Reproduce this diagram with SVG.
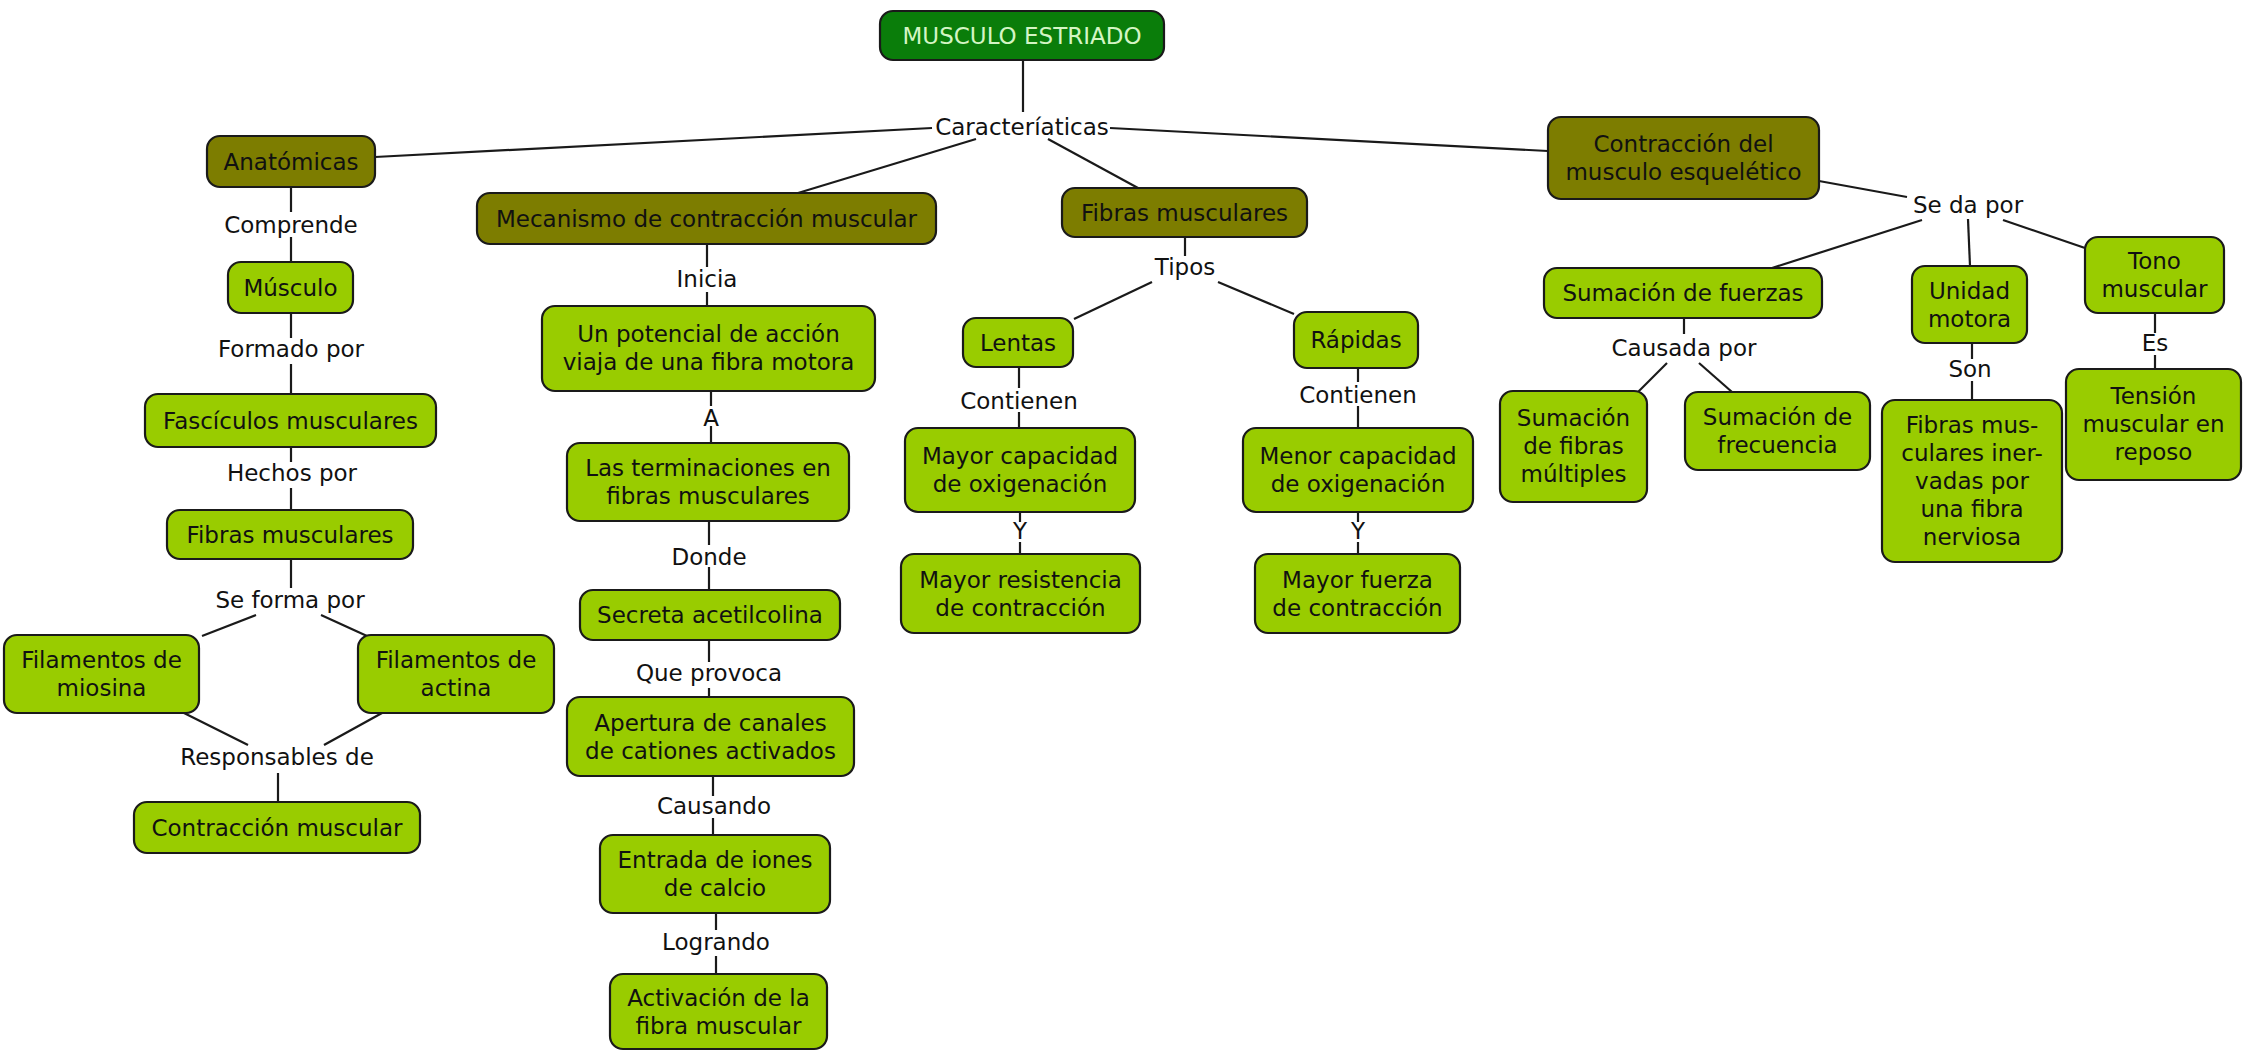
<svg xmlns="http://www.w3.org/2000/svg" width="2246" height="1051" viewBox="0 0 2246 1051">
<style>
text{font-family:"DejaVu Sans","Verdana","Liberation Sans",sans-serif;font-size:23px;fill:#111;text-anchor:middle}
.g rect{fill:#99cc00;stroke:#1a1a1a;stroke-width:2.2}
.o rect{fill:#7d7d00;stroke:#1a1a1a;stroke-width:2.2}
.t rect{fill:#0a7d0a;stroke:#1a1a1a;stroke-width:2.2}
.t text{fill:#d4f5c4}
#links line{stroke:#1a1a1a;stroke-width:2.2;fill:none}
</style>
<rect width="2246" height="1051" fill="#ffffff"/>
<g id="links">
<line x1="1023" y1="60" x2="1023" y2="112"/>
<line x1="932" y1="128" x2="375" y2="157"/>
<line x1="976" y1="139" x2="798" y2="193"/>
<line x1="1048" y1="139" x2="1138" y2="188"/>
<line x1="1110" y1="128" x2="1548" y2="151"/>
<line x1="291" y1="187" x2="291" y2="212"/>
<line x1="291" y1="237" x2="291" y2="262"/>
<line x1="291" y1="313" x2="291" y2="338"/>
<line x1="291" y1="364" x2="291" y2="394"/>
<line x1="291" y1="447" x2="291" y2="462"/>
<line x1="291" y1="488" x2="291" y2="510"/>
<line x1="291" y1="559" x2="291" y2="588"/>
<line x1="256" y1="615" x2="202" y2="636"/>
<line x1="321" y1="615" x2="367" y2="636"/>
<line x1="184" y1="713" x2="248" y2="745"/>
<line x1="382" y1="713" x2="324" y2="745"/>
<line x1="278" y1="773" x2="278" y2="802"/>
<line x1="707" y1="244" x2="707" y2="267"/>
<line x1="707" y1="292" x2="707" y2="306"/>
<line x1="711" y1="391" x2="711" y2="406"/>
<line x1="711" y1="426" x2="711" y2="443"/>
<line x1="709" y1="521" x2="709" y2="545"/>
<line x1="709" y1="567" x2="709" y2="590"/>
<line x1="709" y1="640" x2="709" y2="662"/>
<line x1="709" y1="688" x2="709" y2="697"/>
<line x1="713" y1="776" x2="713" y2="796"/>
<line x1="713" y1="818" x2="713" y2="835"/>
<line x1="716" y1="913" x2="716" y2="930"/>
<line x1="716" y1="956" x2="716" y2="974"/>
<line x1="1185" y1="237" x2="1185" y2="256"/>
<line x1="1152" y1="282" x2="1074" y2="319"/>
<line x1="1218" y1="282" x2="1294" y2="314"/>
<line x1="1019" y1="367" x2="1019" y2="388"/>
<line x1="1019" y1="412" x2="1019" y2="428"/>
<line x1="1358" y1="368" x2="1358" y2="382"/>
<line x1="1358" y1="406" x2="1358" y2="428"/>
<line x1="1020" y1="512" x2="1020" y2="522"/>
<line x1="1020" y1="542" x2="1020" y2="554"/>
<line x1="1358" y1="512" x2="1358" y2="522"/>
<line x1="1358" y1="542" x2="1358" y2="554"/>
<line x1="1819" y1="181" x2="1907" y2="197"/>
<line x1="1922" y1="220" x2="1772" y2="268"/>
<line x1="1968" y1="219" x2="1970" y2="266"/>
<line x1="2003" y1="220" x2="2085" y2="248"/>
<line x1="1684" y1="318" x2="1684" y2="334"/>
<line x1="1667" y1="363" x2="1638" y2="392"/>
<line x1="1699" y1="363" x2="1732" y2="392"/>
<line x1="1972" y1="343" x2="1972" y2="359"/>
<line x1="1972" y1="381" x2="1972" y2="400"/>
<line x1="2155" y1="313" x2="2155" y2="333"/>
<line x1="2155" y1="355" x2="2155" y2="369"/>
</g>
<g id="labels">
<text x="1022" y="135">Caracteríaticas</text>
<text x="291" y="233">Comprende</text>
<text x="291" y="357">Formado por</text>
<text x="292" y="481">Hechos por</text>
<text x="290" y="608">Se forma por</text>
<text x="277" y="765">Responsables de</text>
<text x="707" y="287">Inicia</text>
<text x="711" y="426">A</text>
<text x="709" y="565">Donde</text>
<text x="709" y="681">Que provoca</text>
<text x="714" y="814">Causando</text>
<text x="716" y="950">Logrando</text>
<text x="1185" y="275">Tipos</text>
<text x="1019" y="409">Contienen</text>
<text x="1358" y="403">Contienen</text>
<text x="1020" y="539">Y</text>
<text x="1358" y="539">Y</text>
<text x="1968" y="213">Se da por</text>
<text x="1684" y="356">Causada por</text>
<text x="1970" y="377">Son</text>
<text x="2155" y="351">Es</text>
</g>
<g id="n-musculo-estriado" class="t"><rect x="880" y="11" width="284" height="49" rx="13"/><text x="1022" y="44">MUSCULO ESTRIADO</text></g>
<g id="n-anatomicas" class="o"><rect x="207" y="136" width="168" height="51" rx="13"/><text x="291" y="170">Anatómicas</text></g>
<g id="n-mecanismo" class="o"><rect x="477" y="193" width="459" height="51" rx="13"/><text x="706.5" y="227">Mecanismo de contracción muscular</text></g>
<g id="n-fibras-tipos" class="o"><rect x="1062" y="188" width="245" height="49" rx="13"/><text x="1184.5" y="221">Fibras musculares</text></g>
<g id="n-contraccion-esq" class="o"><rect x="1548" y="117" width="271" height="82" rx="13"/><text x="1683.5" y="152">Contracción del</text><text x="1683.5" y="180">musculo esquelético</text></g>
<g id="n-musculo" class="g"><rect x="228" y="262" width="125" height="51" rx="13"/><text x="290.5" y="296">Músculo</text></g>
<g id="n-fasciculos" class="g"><rect x="145" y="394" width="291" height="53" rx="13"/><text x="290.5" y="429">Fascículos musculares</text></g>
<g id="n-fibras" class="g"><rect x="167" y="510" width="246" height="49" rx="13"/><text x="290" y="543">Fibras musculares</text></g>
<g id="n-miosina" class="g"><rect x="4" y="635" width="195" height="78" rx="13"/><text x="101.5" y="668">Filamentos de</text><text x="101.5" y="696">miosina</text></g>
<g id="n-actina" class="g"><rect x="358" y="635" width="196" height="78" rx="13"/><text x="456" y="668">Filamentos de</text><text x="456" y="696">actina</text></g>
<g id="n-contraccion" class="g"><rect x="134" y="802" width="286" height="51" rx="13"/><text x="277" y="836">Contracción muscular</text></g>
<g id="n-potencial" class="g"><rect x="542" y="306" width="333" height="85" rx="13"/><text x="708.5" y="342">Un potencial de acción</text><text x="708.5" y="370">viaja de una fibra motora</text></g>
<g id="n-terminaciones" class="g"><rect x="567" y="443" width="282" height="78" rx="13"/><text x="708" y="476">Las terminaciones en</text><text x="708" y="504">fibras musculares</text></g>
<g id="n-secreta" class="g"><rect x="580" y="590" width="260" height="50" rx="13"/><text x="710" y="623">Secreta acetilcolina</text></g>
<g id="n-apertura" class="g"><rect x="567" y="697" width="287" height="79" rx="13"/><text x="710.5" y="731">Apertura de canales</text><text x="710.5" y="759">de cationes activados</text></g>
<g id="n-entrada" class="g"><rect x="600" y="835" width="230" height="78" rx="13"/><text x="715" y="868">Entrada de iones</text><text x="715" y="896">de calcio</text></g>
<g id="n-activacion" class="g"><rect x="610" y="974" width="217" height="75" rx="13"/><text x="718.5" y="1006">Activación de la</text><text x="718.5" y="1034">fibra muscular</text></g>
<g id="n-lentas" class="g"><rect x="963" y="318" width="110" height="49" rx="13"/><text x="1018" y="351">Lentas</text></g>
<g id="n-rapidas" class="g"><rect x="1294" y="312" width="124" height="56" rx="13"/><text x="1356" y="348">Rápidas</text></g>
<g id="n-mayor-cap" class="g"><rect x="905" y="428" width="230" height="84" rx="13"/><text x="1020" y="464">Mayor capacidad</text><text x="1020" y="492">de oxigenación</text></g>
<g id="n-mayor-res" class="g"><rect x="901" y="554" width="239" height="79" rx="13"/><text x="1020.5" y="588">Mayor resistencia</text><text x="1020.5" y="616">de contracción</text></g>
<g id="n-menor-cap" class="g"><rect x="1243" y="428" width="230" height="84" rx="13"/><text x="1358" y="464">Menor capacidad</text><text x="1358" y="492">de oxigenación</text></g>
<g id="n-mayor-fuerza" class="g"><rect x="1255" y="554" width="205" height="79" rx="13"/><text x="1357.5" y="588">Mayor fuerza</text><text x="1357.5" y="616">de contracción</text></g>
<g id="n-sumacion-fuerzas" class="g"><rect x="1544" y="268" width="278" height="50" rx="13"/><text x="1683" y="301">Sumación de fuerzas</text></g>
<g id="n-unidad" class="g"><rect x="1912" y="266" width="115" height="77" rx="13"/><text x="1969.5" y="299">Unidad</text><text x="1969.5" y="327">motora</text></g>
<g id="n-tono" class="g"><rect x="2085" y="237" width="139" height="76" rx="13"/><text x="2154.5" y="269">Tono</text><text x="2154.5" y="297">muscular</text></g>
<g id="n-fibras-multiples" class="g"><rect x="1500" y="391" width="147" height="111" rx="13"/><text x="1573.5" y="426">Sumación</text><text x="1573.5" y="454">de fibras</text><text x="1573.5" y="482">múltiples</text></g>
<g id="n-frecuencia" class="g"><rect x="1685" y="392" width="185" height="78" rx="13"/><text x="1777.5" y="425">Sumación de</text><text x="1777.5" y="453">frecuencia</text></g>
<g id="n-fibras-inervadas" class="g"><rect x="1882" y="400" width="180" height="162" rx="13"/><text x="1972" y="433">Fibras mus-</text><text x="1972" y="461">culares iner-</text><text x="1972" y="489">vadas por</text><text x="1972" y="517">una fibra</text><text x="1972" y="545">nerviosa</text></g>
<g id="n-tension" class="g"><rect x="2066" y="369" width="175" height="111" rx="13"/><text x="2153.5" y="404">Tensión</text><text x="2153.5" y="432">muscular en</text><text x="2153.5" y="460">reposo</text></g>
</svg>
